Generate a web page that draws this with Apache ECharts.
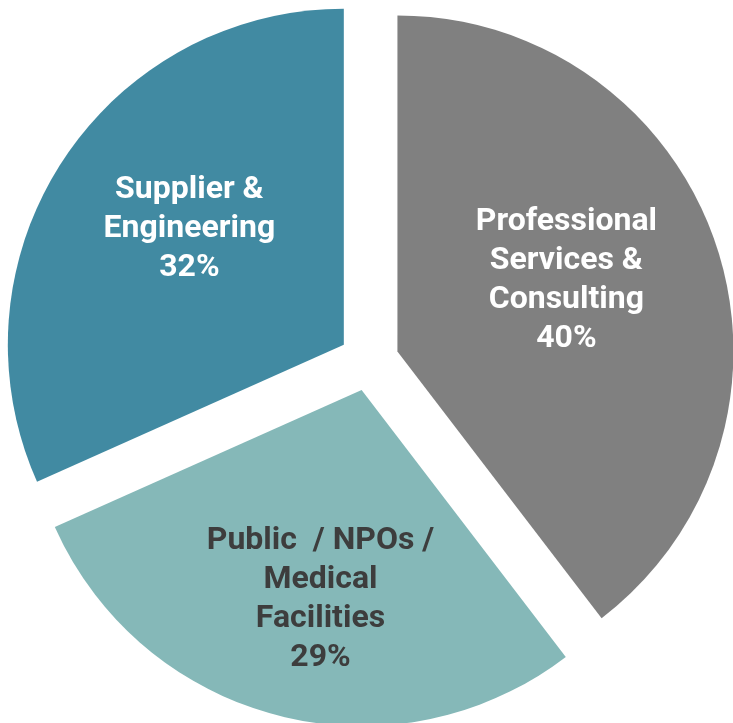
<!DOCTYPE html>
<html>
<head>
<meta charset="utf-8">
<script src="https://cdn.jsdelivr.net/npm/echarts@6/dist/echarts.min.js"></script>
<style>
html,body{margin:0;padding:0;background:#fff;}
#chart{width:733px;height:723px;}
</style>
</head>
<body>
<div id="chart"></div>
<script>
const categories = ["Professional\nServices &\nConsulting", "Public  / NPOs /\nMedical\nFacilities", "Supplier &\nEngineering"];
const values = [40, 29, 32];

const colors = ["#808080", "#85B8B8", "#418AA2"];
const textColors = ["#ffffff", "#3d3d3d", "#ffffff"];
const labelShift = [[7, -16], [1, 44], [-11, -23]];

const chart = echarts.init(document.getElementById('chart'));
const data = categories.map((c, i) => ({
  name: c,
  value: values[i],
  selected: true,
  itemStyle: { color: colors[i] },
  label: { color: textColors[i] }
}));

chart.setOption({
  animation: false,
  series: [{
    type: 'pie',
    center: [369, 361],
    radius: [0, 336],
    startAngle: 90,
    clockwise: true,
    selectedMode: 'multiple',
    selectedOffset: 30,
    avoidLabelOverlap: false,
    emphasis: { disabled: true },
    label: {
      show: true,
      position: 'inside',
      fontFamily: 'Roboto',
      fontWeight: 'bold',
      fontSize: 32,
      lineHeight: 39,
      align: 'center',
      formatter: p => p.name + '\n' + p.value + '%'
    },
    labelLayout: p => ({ dx: labelShift[p.dataIndex][0], dy: labelShift[p.dataIndex][1] }),
    labelLine: { show: false },
    data: data
  }]
});
</script>
</body>
</html>
